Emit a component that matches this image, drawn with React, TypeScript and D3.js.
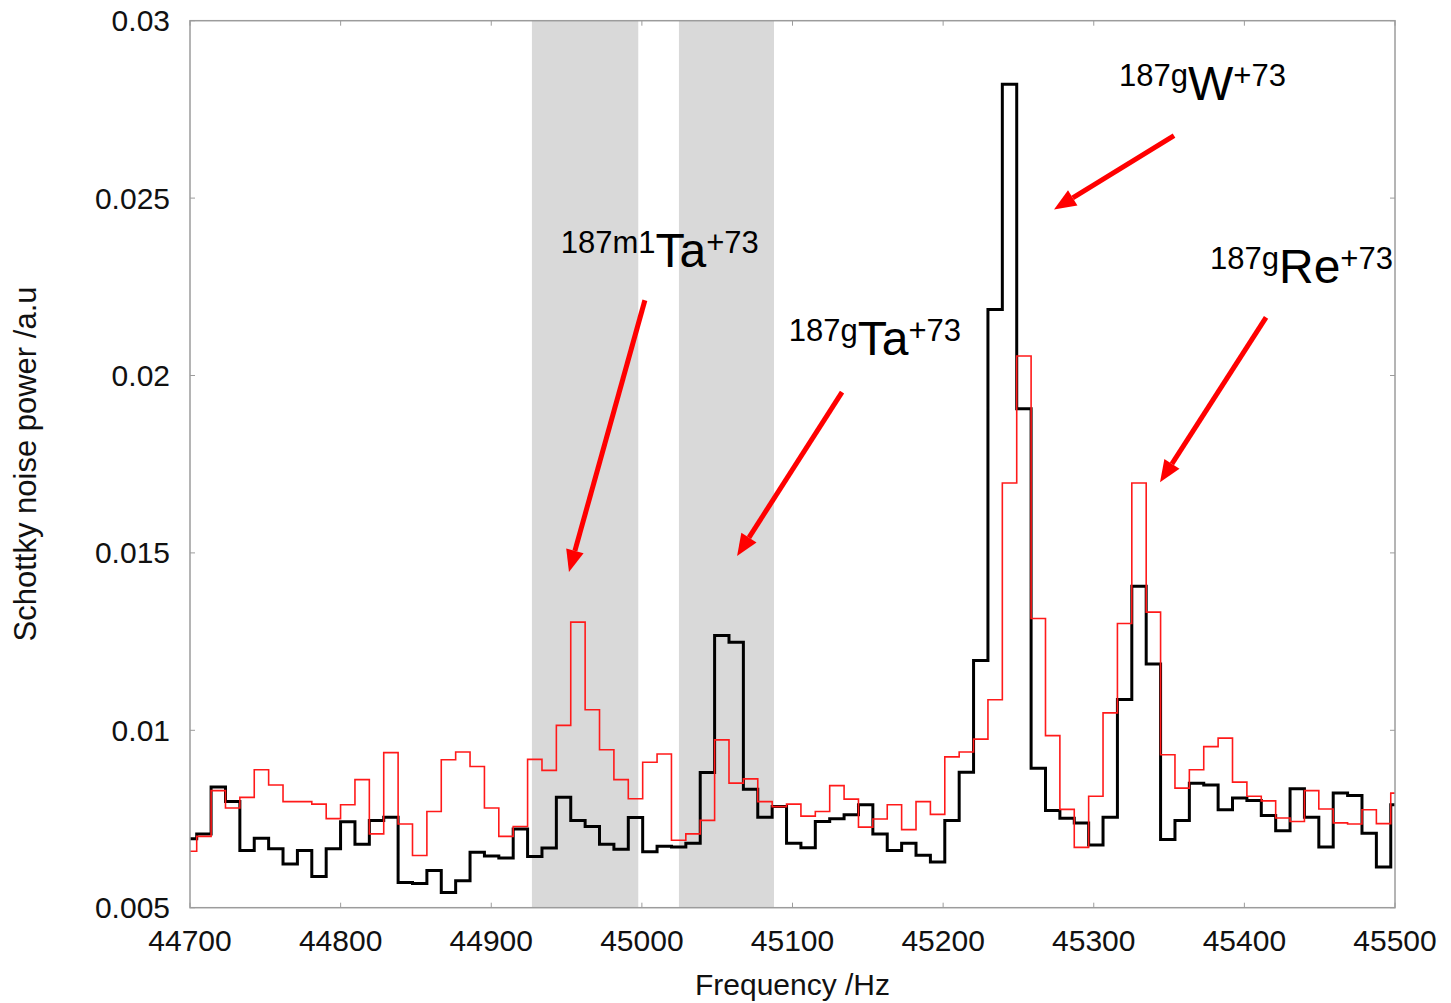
import React from "react";
import * as d3 from "d3";

// Histogram bins (Hz)
const BIN_START = 44694.9;
const BIN_WIDTH = 9.551;

// Schottky noise power, black series (thick)
const blackValues = [
  0.00694, 0.00708, 0.0084, 0.00799, 0.00661, 0.00696, 0.00666, 0.00623, 0.00661, 0.00588,
  0.00666, 0.00742, 0.00679, 0.00746, 0.00755, 0.00571, 0.00568, 0.00605, 0.00543, 0.00576,
  0.00656, 0.00646, 0.0064, 0.00722, 0.00644, 0.00668, 0.00811, 0.00746, 0.00729, 0.00679,
  0.00665, 0.00754, 0.00658, 0.00673, 0.00671, 0.00682, 0.00881, 0.01267, 0.01248, 0.00834,
  0.00755, 0.00785, 0.00682, 0.00669, 0.00743, 0.00751, 0.00762, 0.0079, 0.00708, 0.00661,
  0.00682, 0.00648, 0.00629, 0.00746, 0.00882, 0.01197, 0.02186, 0.02821, 0.01906, 0.00893,
  0.00774, 0.00752, 0.00739, 0.00677, 0.00755, 0.01087, 0.01406, 0.01187, 0.00692, 0.00746,
  0.00851, 0.00846, 0.00776, 0.00809, 0.00802, 0.0076, 0.00717, 0.00835, 0.00755, 0.00671,
  0.00823, 0.00816, 0.0071, 0.00615, 0.0079,
];

// Schottky noise power, red series (thin)
const redValues = [
  0.00659, 0.00701, 0.0083, 0.00781, 0.00811, 0.00889, 0.00846, 0.00799, 0.00799, 0.00792,
  0.00751, 0.0079, 0.00861, 0.00708, 0.00937, 0.00736, 0.00647, 0.00771, 0.00917, 0.00939,
  0.00898, 0.00781, 0.00701, 0.00729, 0.00918, 0.00887, 0.01014, 0.01305, 0.01058, 0.00945,
  0.00861, 0.00807, 0.0091, 0.00933, 0.0069, 0.00708, 0.00746, 0.00973, 0.00851, 0.00863,
  0.00799, 0.00785, 0.00792, 0.00758, 0.00771, 0.00844, 0.00806, 0.00727, 0.0075, 0.0079,
  0.0072, 0.00799, 0.00763, 0.00925, 0.00939, 0.00975, 0.01086, 0.01697, 0.02055, 0.01315,
  0.00985, 0.00777, 0.0067, 0.00814, 0.01049, 0.01301, 0.01697, 0.01333, 0.00931, 0.00837,
  0.00889, 0.00954, 0.00978, 0.00854, 0.00814, 0.00801, 0.00753, 0.00743, 0.0083, 0.00778,
  0.00739, 0.00736, 0.00776, 0.00737, 0.00823,
];

const xTicks = [44700, 44800, 44900, 45000, 45100, 45200, 45300, 45400, 45500];
const yTicks = [0.005, 0.01, 0.015, 0.02, 0.025, 0.03];
const yTickLabels = ["0.005", "0.01", "0.015", "0.02", "0.025", "0.03"];

// shaded frequency windows [from, to]
const bandStarts = [44927, 45024.6];
const bandEnds = [44997.6, 45087.7];

// annotation labels: isotope, mass prefix, element, charge
const labelPre = ["187m1", "187g", "187g", "187g"];
const labelMain = ["Ta", "Ta", "W", "Re"];
const labelPost = ["+73", "+73", "+73", "+73"];
const labelX = [44946.1, 45097.5, 45316.8, 45377.2];
const labelY = [0.02305, 0.02057, 0.02776, 0.0226];

// arrows: start -> tip
const arrowX1 = [45002, 45132.9, 45353.3, 45414.4];
const arrowY1 = [0.02212, 0.01953, 0.02676, 0.02164];
const arrowX2 = [44951.6, 45063.2, 45273.6, 45344];
const arrowY2 = [0.01446, 0.01491, 0.02468, 0.01699];

const W = 1451;
const H = 1003;
const L = 190;
const R = 1395;
const T = 20.7;
const B = 907.7;
const FONT = "'Liberation Sans', Arial, Helvetica, sans-serif";

export default function App() {
  const x = d3.scaleLinear().domain([44700, 45500]).range([L, R]);
  const y = d3.scaleLinear().domain([0.005, 0.03]).range([B, T]);

  const stepPath = (vals: number[]) => {
    const pts: [number, number][] = vals.map((v, i) => [BIN_START + i * BIN_WIDTH, v]);
    pts.push([BIN_START + vals.length * BIN_WIDTH, vals[vals.length - 1]]);
    return d3
      .line<[number, number]>()
      .x((d) => x(d[0]))
      .y((d) => y(d[1]))
      .curve(d3.curveStepAfter)(pts) as string;
  };

  const arrows = arrowX1.map((_, i) => {
    const x1 = x(arrowX1[i]);
    const y1 = y(arrowY1[i]);
    const x2 = x(arrowX2[i]);
    const y2 = y(arrowY2[i]);
    const ang = Math.atan2(y2 - y1, x2 - x1);
    const headLen = 22;
    const headHalf = 9;
    const bx = x2 - headLen * Math.cos(ang);
    const by = y2 - headLen * Math.sin(ang);
    const px = -Math.sin(ang);
    const py = Math.cos(ang);
    const head = `M${x2},${y2}L${bx + px * headHalf},${by + py * headHalf}L${bx - px * headHalf},${by - py * headHalf}Z`;
    return { x1, y1, bx, by, head };
  });

  const frame = "#9c9c9c";

  return (
    <svg
      width={W}
      height={H}
      style={{ position: "absolute", left: 0, top: 0, background: "#fff" }}
      fontFamily={FONT}
    >
      <defs>
        <clipPath id="plotclip">
          <rect x={L} y={T} width={R - L} height={B - T} />
        </clipPath>
      </defs>
      <rect x={0} y={0} width={W} height={H} fill="#fff" />

      {bandStarts.map((b, i) => (
        <rect
          key={"band" + i}
          x={x(b)}
          y={T}
          width={x(bandEnds[i]) - x(b)}
          height={B - T}
          fill="#d9d9d9"
        />
      ))}

      {/* ticks */}
      {xTicks.map((t) => (
        <g key={"xt" + t}>
          <line x1={x(t)} x2={x(t)} y1={B} y2={B - 5} stroke={frame} strokeWidth={1} />
          <line x1={x(t)} x2={x(t)} y1={T} y2={T + 5} stroke={frame} strokeWidth={1} />
        </g>
      ))}
      {yTicks.map((t) => (
        <g key={"yt" + t}>
          <line x1={L} x2={L + 5} y1={y(t)} y2={y(t)} stroke={frame} strokeWidth={1} />
          <line x1={R} x2={R - 5} y1={y(t)} y2={y(t)} stroke={frame} strokeWidth={1} />
        </g>
      ))}

      <g clipPath="url(#plotclip)">
        <path d={stepPath(blackValues)} fill="none" stroke="#000" strokeWidth={3} strokeLinejoin="miter" />
        <path d={stepPath(redValues)} fill="none" stroke="#ff1a1a" strokeWidth={1.6} strokeLinejoin="miter" />
      </g>

      <rect x={L} y={T} width={R - L} height={B - T} fill="none" stroke={frame} strokeWidth={1.5} />

      {/* tick labels */}
      {yTicks.map((t, i) => (
        <text key={"yl" + t} x={170} y={y(t) + 10.5} fontSize={30} textAnchor="end" fill="#111">
          {yTickLabels[i]}
        </text>
      ))}
      {xTicks.map((t) => (
        <text key={"xl" + t} x={x(t)} y={951} fontSize={30} textAnchor="middle" fill="#111">
          {String(t)}
        </text>
      ))}

      <text x={(L + R) / 2} y={995} fontSize={30} textAnchor="middle" fill="#111">
        Frequency /Hz
      </text>
      <text
        transform={`translate(36,${464}) rotate(-90)`}
        fontSize={31}
        textAnchor="middle"
        fill="#111"
      >
        Schottky noise power /a.u
      </text>

      {/* arrows */}
      {arrows.map((a, i) => (
        <g key={"ar" + i}>
          <line x1={a.x1} y1={a.y1} x2={a.bx} y2={a.by} stroke="#ff0000" strokeWidth={5} />
          <path d={a.head} fill="#ff0000" />
        </g>
      ))}

      {/* labels */}
      {labelMain.map((m, i) => (
        <text key={"lab" + i} x={x(labelX[i])} y={y(labelY[i])} fill="#000">
          <tspan fontSize={31} dy={-14}>
            {labelPre[i]}
          </tspan>
          <tspan fontSize={48} dy={14}>
            {m}
          </tspan>
          <tspan fontSize={31} dy={-14}>
            {labelPost[i]}
          </tspan>
        </text>
      ))}
    </svg>
  );
}
